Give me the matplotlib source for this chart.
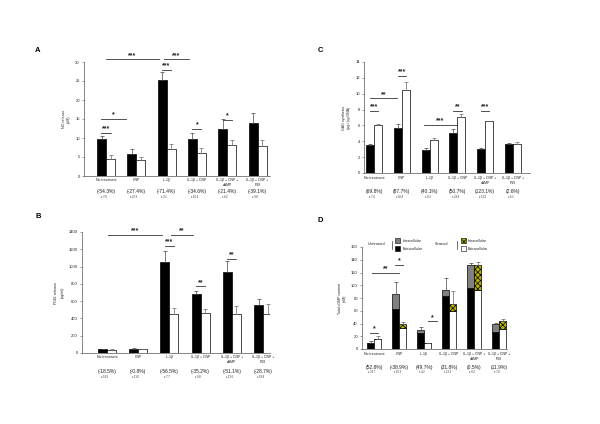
import matplotlib
matplotlib.use('Agg')
import matplotlib.pyplot as plt
from matplotlib.patches import Rectangle
from matplotlib.transforms import blended_transform_factory

plt.rcParams['font.family'] = ['Liberation Sans', 'DejaVu Sans']
plt.rcParams['hatch.linewidth'] = 0.5

W, H = 600, 424

categories = ['No treatment', 'CNP', 'IL-1β', 'IL-1β + CNP',
              'IL-1β + CNP +\ncAMP', 'IL-1β + CNP +\nP19']

# Panel A: NO release (uM)
a_unstrained = [9.8, 5.9, 25.2, 9.7, 12.5, 13.9]
a_unstrained_err = [0.7, 1.3, 2.2, 1.6, 2.4, 2.8]
a_strained = [4.6, 4.1, 7.2, 6.1, 8.1, 8.0]
a_strained_err = [0.9, 1.0, 1.2, 1.3, 1.3, 1.4]
a_pct = ['(-54.3%)', '(-27.4%)', '(-71.4%)', '(-34.6%)', '(-21.4%)', '(-39.1%)']
a_sem = ['± 7.0', '± 22.3', '± 3.2', '± 10.4', '± 8.2', '± 9.8']
a_yticks = [0, 5, 10, 15, 20, 25, 30]

# Panel B: PGE2 release (pg/ml)
b_unstrained = [42, 48, 1052, 686, 936, 559]
b_unstrained_err = [6, 8, 130, 34, 124, 69]
b_strained = [36, 44, 451, 459, 451, 451]
b_strained_err = [8, 6, 69, 53, 96, 119]
b_pct = ['(-18.5%)', '(-0.8%)', '(-56.5%)', '(-35.2%)', '(-51.1%)', '(-28.7%)']
b_sem = ['± 19.9', '± 11.6', '± 7.7', '± 9.8', '± 12.6', '± 19.8']
b_yticks = [0, 200, 400, 600, 800, 1000, 1200, 1400]

# Panel C: GAG synthesis (ug / ug DNA)
c_unstrained = [3.5, 5.65, 2.85, 5.1, 3.0, 3.65]
c_unstrained_err = [0.15, 0.5, 0.3, 0.5, 0.1, 0.1]
c_strained = [6.0, 10.5, 4.1, 7.0, 6.5, 3.65]
c_strained_err = [0.2, 1.0, 0.3, 0.4, 0.1, 0.3]
c_pct = ['(69.8%)', '(87.7%)', '(40.1%)', '(50.7%)', '(123.1%)', '(2.6%)']
c_sem = ['± 7.4', '± 16.8', '± 9.2', '± 23.8', '± 13.2', '± 6.1']
c_yticks = [0, 2, 4, 6, 8, 10, 12, 14]

# Panel D: total cGMP content (nM), stacked extracellular + intracellular
d_unstr_extra = [9.4, 63.3, 25.0, 82.6, 95.7, 27.2]
d_unstr_intra = [0.6, 23.0, 5.3, 10.4, 35.3, 12.5]
d_unstr_err = [2.0, 19.0, 4.0, 18.0, 4.0, 1.5]
d_str_extra = [16.0, 33.5, 9.0, 59.0, 93.0, 32.0]
d_str_intra = [0.3, 5.2, 0.4, 11.6, 38.0, 11.4]
d_str_err = [3.5, 3.0, 0.5, 21.0, 6.0, 3.5]
d_pct = ['(52.8%)', '(-38.9%)', '(49.7%)', '(31.8%)', '(0.5%)', '(11.9%)']
d_sem = ['± 30.7', '± 15.3', '± 4.2', '± 13.3', '± 0.2', '± 7.8']
d_yticks = [0, 20, 40, 60, 80, 100, 120, 140, 160]

# significance marks: (x start, x end, y, label); x in group units
a_sig = [(-0.15, 0.15, 11.4, '***'), (-0.15, 0.65, 15.0, '*'), (0.0, 1.75, 30.7, '***'),
         (1.9, 2.75, 30.7, '***'), (1.85, 2.15, 28.0, '***'), (2.85, 3.15, 12.3, '*'),
         (3.85, 4.15, 14.7, '*')]
b_sig = [(0.04, 1.75, 1370, '***'), (2.04, 2.75, 1370, '**'), (1.85, 2.15, 1240, '***'),
         (2.85, 3.15, 770, '**'), (3.85, 4.15, 1087, '**')]
c_sig = [(-0.15, 0.15, 7.8, '***'), (-0.14, 0.84, 9.4, '**'), (0.85, 1.15, 12.2, '***'),
         (1.8, 2.97, 6.07, '***'), (2.85, 3.15, 7.8, '**'), (3.85, 4.15, 7.8, '***')]
d_sig = [(-0.15, 0.15, 25.1, '*'), (-0.09, 1.01, 119, '**'), (0.85, 1.15, 132, '*'),
         (2.17, 2.5, 43.4, '*')]

fig = plt.figure(figsize=(6, 4.24), dpi=100)
TXT = '#222222'


def make_axes(left, top, right, bottom, c0, sp, ylim, yticks, ylabel):
    ax = fig.add_axes([left / W, 1 - bottom / H, (right - left) / W, (bottom - top) / H])
    ax.set_xlim((left - c0) / sp, (right - c0) / sp)
    ax.set_ylim(*ylim)
    ax.set_yticks(yticks)
    ax.set_xticks([])
    for s in ['top', 'right']:
        ax.spines[s].set_visible(False)
    for s in ['left', 'bottom']:
        ax.spines[s].set_linewidth(0.5)
        ax.spines[s].set_color('#555555')
    ax.tick_params(axis='y', labelsize=3, length=1.5, width=0.4, pad=1.5,
                   colors='#555555', labelcolor=TXT)
    ax.set_ylabel(ylabel, fontsize=2.6, labelpad=3, color=TXT, linespacing=1.3)
    return ax


def labels_below(ax, cat_y, pct_y, sem_y, pct, sem):
    tr = blended_transform_factory(ax.transData, fig.transFigure)
    for i, (c, p, s) in enumerate(zip(categories, pct, sem)):
        ax.text(i, 1 - cat_y / H, c, transform=tr, ha='center', va='top',
                fontsize=2.5, color=TXT, linespacing=1.2)
        ax.text(i, 1 - pct_y / H, p, transform=tr, ha='center', va='center',
                fontsize=3.6, color=TXT)
        ax.text(i - 0.08, 1 - sem_y / H, s, transform=tr, ha='center', va='center',
                fontsize=1.8, color=TXT)


def sig_marks(ax, sigs, ylim):
    off = (ylim[1] - ylim[0]) * 0.005
    for x1, x2, y, lab in sigs:
        ax.plot([x1, x2], [y, y], color='#333333', lw=0.6, clip_on=False)
        ax.text((x1 + x2) / 2, y + off, lab, ha='center', va='bottom', fontsize=5,
                fontweight='bold', color=TXT, clip_on=False)


def simple_panel(rect, c0, sp, wpx, ylim, yticks, ylabel, un, une, st, ste, sigs,
                 cat_y, pct_y, sem_y, pct, sem):
    ax = make_axes(*rect, c0, sp, ylim, yticks, ylabel)
    w = wpx / sp
    x = list(range(len(categories)))
    xb = [i - w / 2 for i in x]
    xw = [i + w / 2 for i in x]
    ax.bar(xb, un, width=w, color='black', edgecolor='black', linewidth=0.5)
    ax.bar(xw, st, width=w, color='white', edgecolor='black', linewidth=0.5)
    ax.errorbar(xb, un, yerr=[[0] * len(un), une], fmt='none', ecolor='#444444',
                elinewidth=0.5, capsize=1.2, capthick=0.5)
    ax.errorbar(xw, st, yerr=[[0] * len(st), ste], fmt='none', ecolor='#666666',
                elinewidth=0.5, capsize=1.2, capthick=0.5)
    sig_marks(ax, sigs, ylim)
    labels_below(ax, cat_y, pct_y, sem_y, pct, sem)
    return ax


simple_panel((84, 62, 270, 176), 106, 30.3, 9, (0, 30), a_yticks, 'NO release\n(µM)',
             a_unstrained, a_unstrained_err, a_strained, a_strained_err, a_sig,
             178, 192, 197, a_pct, a_sem)
simple_panel((82, 232, 270, 353), 107, 31.2, 9, (0, 1400), b_yticks,
             'PGE$_2$ release\n(pg/ml)',
             b_unstrained, b_unstrained_err, b_strained, b_strained_err, b_sig,
             355, 372, 377, b_pct, b_sem)
simple_panel((364, 62, 530, 173), 374, 27.8, 8, (0, 14), c_yticks,
             'GAG synthesis\n(µg / µg DNA)',
             c_unstrained, c_unstrained_err, c_strained, c_strained_err, c_sig,
             176, 192, 197, c_pct, c_sem)

# Panel D (stacked)
axd = make_axes(362, 247, 507, 349, 374, 25, (0, 160), d_yticks, 'Total cGMP content\n(nM)')
w = 7 / 25
xs = list(range(len(categories)))
xb = [i - w / 2 for i in xs]
xw = [i + w / 2 for i in xs]
CHECK = '#b5b000'
axd.bar(xb, d_unstr_extra, width=w, color='black', edgecolor='black', linewidth=0.5)
axd.bar(xb, d_unstr_intra, width=w, bottom=d_unstr_extra, color='#808080',
        edgecolor='black', linewidth=0.5)
axd.bar(xw, d_str_extra, width=w, color='white', edgecolor='black', linewidth=0.5)
axd.bar(xw, d_str_intra, width=w, bottom=d_str_extra, color=CHECK,
        edgecolor='black', linewidth=0.5, hatch='xxxxxx')
un_tot = [a + b for a, b in zip(d_unstr_extra, d_unstr_intra)]
st_tot = [a + b for a, b in zip(d_str_extra, d_str_intra)]
axd.errorbar(xb, un_tot, yerr=[[0] * 6, d_unstr_err], fmt='none', ecolor='#444444',
             elinewidth=0.5, capsize=1.2, capthick=0.5)
axd.errorbar(xw, st_tot, yerr=[[0] * 6, d_str_err], fmt='none', ecolor='#666666',
             elinewidth=0.5, capsize=1.2, capthick=0.5)
sig_marks(axd, d_sig, (0, 160))
labels_below(axd, 352, 367, 372, d_pct, d_sem)

# Panel D legend (figure pixels)
def fx(px):
    return px / W


def fy(py):
    return 1 - py / H


sq_w, sq_h = 5, 4.5
fig.text(fx(377), fy(244), 'Unstrained', fontsize=2.6, ha='center', va='center', color=TXT)
fig.add_artist(plt.Line2D([fx(391.7), fx(391.7)], [fy(240.5), fy(248.5)], color='#333333', lw=0.5))
fig.add_artist(Rectangle((fx(395), fy(242.7)), sq_w / W, sq_h / H, facecolor='#808080',
                         edgecolor='black', lw=0.4))
fig.add_artist(Rectangle((fx(395), fy(250.7)), sq_w / W, sq_h / H, facecolor='black',
                         edgecolor='black', lw=0.4))
fig.text(fx(402.5), fy(240.5), 'Intracellular', fontsize=2.6, ha='left', va='center', color=TXT)
fig.text(fx(402.5), fy(248.5), 'Extracellular', fontsize=2.6, ha='left', va='center', color=TXT)
fig.text(fx(442), fy(244), 'Strained', fontsize=2.6, ha='center', va='center', color=TXT)
fig.add_artist(plt.Line2D([fx(456.7), fx(456.7)], [fy(240.5), fy(248.5)], color='#333333', lw=0.5))
fig.add_artist(Rectangle((fx(460.7), fy(242.7)), sq_w / W, sq_h / H, facecolor=CHECK,
                         edgecolor='black', lw=0.4, hatch='xxxxxx'))
fig.add_artist(Rectangle((fx(460.7), fy(250.7)), sq_w / W, sq_h / H, facecolor='white',
                         edgecolor='black', lw=0.4))
fig.text(fx(467.5), fy(240.5), 'Intracellular', fontsize=2.6, ha='left', va='center', color=TXT)
fig.text(fx(467.5), fy(248.5), 'Extracellular', fontsize=2.6, ha='left', va='center', color=TXT)

# panel letters
for lab, x, y in [('A', 38, 50), ('B', 38, 217), ('C', 320, 50), ('D', 320, 220)]:
    fig.text(fx(x), fy(y), lab, fontsize=5.5, fontweight='bold', ha='center', va='center',
             color='black')

fig.savefig('out.png', dpi=100)
